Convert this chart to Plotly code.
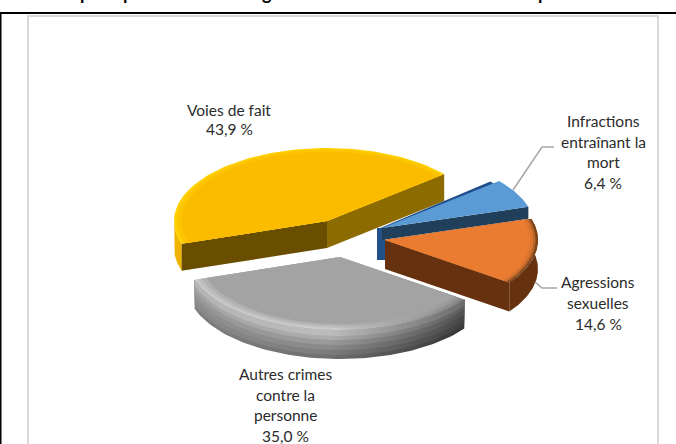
import numpy as np
import plotly.graph_objects as go

categories = ["Infractions entraînant la mort", "Agressions sexuelles", "Autres crimes contre la personne", "Voies de fait"]
values = [6.4, 14.6, 35.0, 43.9]
label_lines = [["Infractions", "entraînant la", "mort"], ["Agressions", "sexuelles"],
               ["Autres crimes", "contre la", "personne"], ["Voies de fait"]]
label_x = [603, 598, 285, 229]
label_y = [121, 282, 374, 110]
label_step = [20.6, 21, 20.7, 19]
title_letters = ["p", "p", "g", "p"]
title_x = [85, 128, 267, 543]

W, H = 676, 444
A, B = 153, 73
DEPTH = 29
START = 40.0
sweeps = [v / sum(values) * 360 for v in values]
edges = START - np.cumsum([0] + sweeps)
centers = [(382, 228), (385, 240), (340, 257), (327, 221)]


def rim(c, t1, t2, r=1.0, dy=0):
    t = np.radians(np.linspace(t1, t2, 80))
    return c[0] + A * r * np.cos(t), c[1] - B * r * np.sin(t) + dy


fig = go.Figure()


def poly(x, y, color, gradient=None):
    kw = dict(fillgradient=gradient) if gradient else dict(fillcolor=color)
    fig.add_trace(go.Scatter(x=list(x) + [x[0]], y=list(y) + [y[0]], mode="lines", fill="toself",
                             line=dict(width=0, color=color), hoverinfo="skip", showlegend=False, **kw))


def wedge(c, t1, t2, color, r=1.0):
    x, y = rim(c, t1, t2, r)
    poly(np.r_[c[0], x], np.r_[c[1], y], color)


def ring(c, t1, t2, r1, r2, color, dy1=0, dy2=0, gradient=None):
    x1, y1 = rim(c, t1, t2, r1, dy1)
    x2, y2 = rim(c, t2, t1, r2, dy2)
    poly(np.r_[x1, x2], np.r_[y1, y2], color, gradient)


def cut(c, t, color, depth):
    x, y = rim(c, t, t)
    poly([c[0], x[0], x[0], c[0]], [c[1], y[0], y[0] + depth, c[1] + depth], color)


def hgrad(stops):
    return dict(type="horizontal", colorscale=stops)


# Voies de fait
c = centers[3]
a1, a2 = edges[4] + 360, edges[3] + 360
ring(c, a2, 178, 1, 1, "#f0b400", 0, 27)
cut(c, a2, "#6a4e00", 27)
cut(c, a1, "#8c6b00", 27)
wedge(c, a1, a2, "#ffd000")
wedge(c, a1, a2, "#fdc400", 0.98)
wedge(c, a1, a2, "#fbbc00", 0.95)

# Infractions
c = centers[0]
a1, a2 = edges[0], edges[1]
cx = (c[0] - 4, c[1] + 1)
wedge(cx, a1 + 2, a2 + 6, "#1f4e8c", 0.98)
poly([c[0] - 5, c[0] + 3, c[0] + 3, c[0] - 5], [c[1], c[1], c[1] + 32, c[1] + 32], "#24508a")
cut(c, a2, "#203f5a", 12)
wedge(c, a2, a1, "#5b9bd5")

# Agressions
c = centers[1]
a1, a2 = edges[2], edges[1]
ring(c, a1, a2, 1, 1, "#65310f", 0, DEPTH)
cut(c, a1, "#65310f", DEPTH)
wedge(c, a1, a2, "#7f441a")
wedge(c, a1, a2, "#b8652a", 0.985)
wedge(c, a1, a2, "#da752f", 0.97)
wedge(c, a1, a2, "#ea7c31", 0.95)

# Autres crimes
c = centers[2]
a1, a2 = edges[3] + 360, edges[2] + 360
side_steps = [(29, "#7f7f7f", "#6f6f6f", "#353535"), (25, "#8a8a8a", "#7c7c7c", "#3f3f3f"),
              (20, "#8f8f8f", "#8a8a8a", "#474747"), (15, "#989898", "#9a9a9a", "#505050"),
              (10, "#a4a4a4", "#adadad", "#5c5c5c"), (6, "#b4b4b4", "#bcbcbc", "#6c6c6c")]
for d, cl, cm, cr in side_steps:
    ring(c, a1, a2, 1, 1, cm, 0, d, hgrad([[0, cl], [0.5, cm], [1, cr]]))
top_steps = [(1.0, "#c6c6c6", "#cdcdcd", "#808080"), (0.975, "#bcbcbc", "#c2c2c2", "#8e8e8e"),
             (0.95, "#b0b0b0", "#b4b4b4", "#9a9a9a")]
for r, cl, cm, cr in top_steps:
    x, y = rim(c, a1, a2, r)
    poly(np.r_[c[0], x], np.r_[c[1], y], cm, hgrad([[0, cl], [0.5, cm], [1, cr]]))
wedge(c, a1, a2, "#a3a3a3", 0.92)

# Leaders
for lx, ly in [([513, 542, 554], [190, 147, 147]), ([535, 542, 557], [282, 288, 288])]:
    fig.add_trace(go.Scatter(x=lx, y=ly, mode="lines", line=dict(color="#a6a6a6", width=1.5),
                             hoverinfo="skip", showlegend=False))

# Labels
for lines, v, lx, ly, st in zip(label_lines, values, label_x, label_y, label_step):
    all_lines = lines + [f"{v:.1f}".replace(".", ",") + " %"]
    for i, s in enumerate(all_lines):
        fig.add_annotation(x=lx, y=ly + i * st, text=s, showarrow=False, xanchor="center", yanchor="middle",
                           font=dict(family="Lato", size=15.5, color="#2b2b2b"))

# Clipped title line
for s, lx in zip(title_letters, title_x):
    fig.add_annotation(x=lx, xref="x", y=1, yref="paper", yanchor="bottom", yshift=-6, text=f"<b>{s}</b>",
                       showarrow=False, font=dict(family="Lato", size=18, color="#000000"))

shapes = [
    dict(type="line", x0=0, x1=W, y0=13, y1=13, line=dict(color="#000000", width=2)),
    dict(type="line", x0=0.5, x1=0.5, y0=13, y1=H, line=dict(color="#000000", width=2)),
    dict(type="rect", x0=28, x1=658, y0=16, y1=H + 10, line=dict(color="#d9d9d9", width=2)),
]
fig.update_layout(width=W, height=H, margin=dict(l=0, r=0, t=0, b=0), showlegend=False,
                  paper_bgcolor="white", plot_bgcolor="white", shapes=shapes,
                  xaxis=dict(range=[0, W], visible=False, fixedrange=True),
                  yaxis=dict(range=[H, 0], visible=False, fixedrange=True))
fig.write_html("out.html", config={"displayModeBar": False},
               post_script="document.body.style.margin='0';")
